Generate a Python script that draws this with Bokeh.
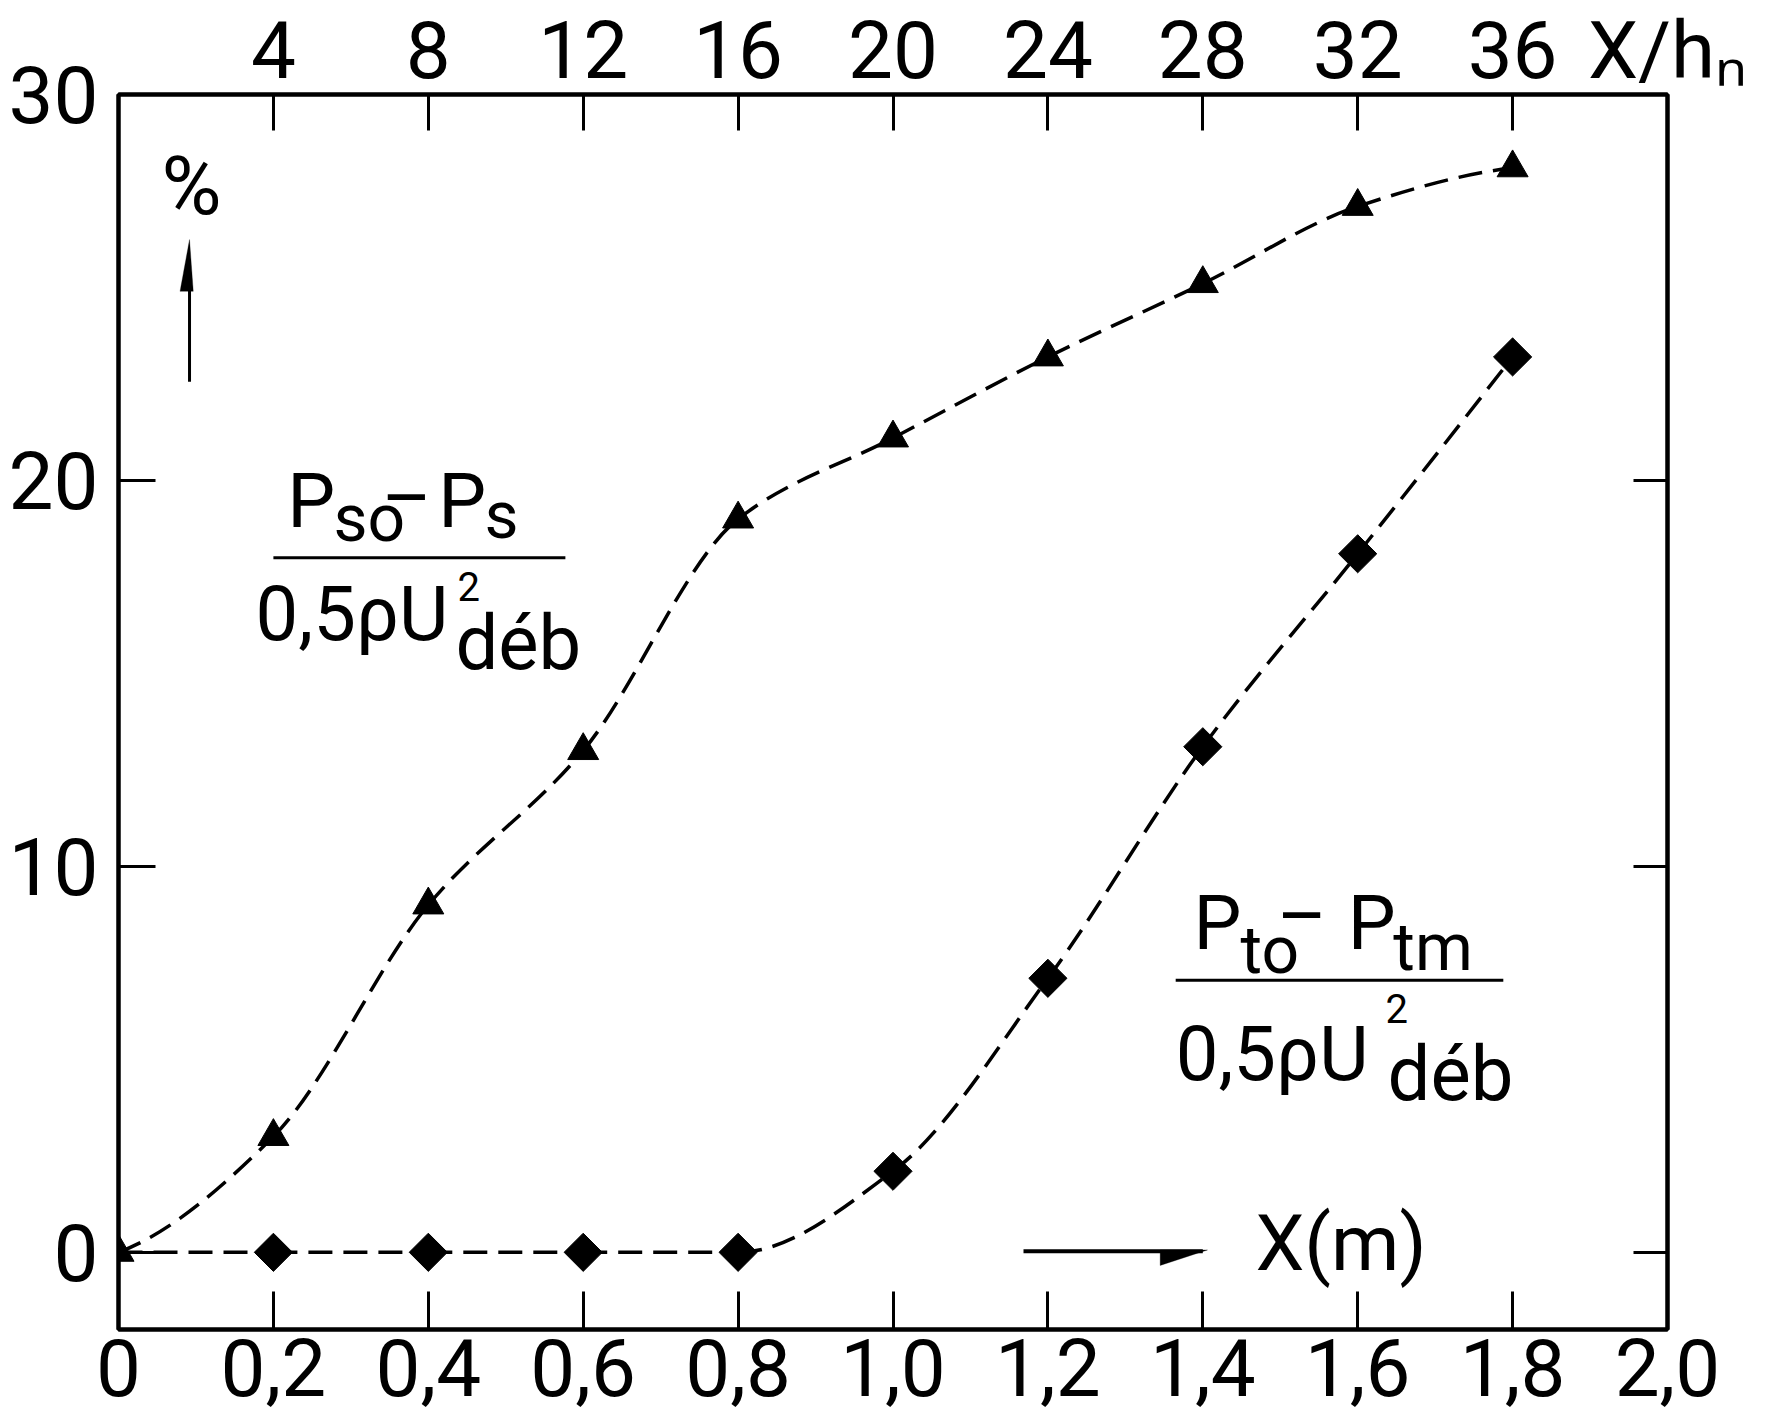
import numpy as np
from bokeh.plotting import figure
from bokeh.models import Range1d, LinearAxis, FixedTicker, Label, Arrow, PolyAnnotation
from bokeh.embed import file_html
from bokeh.resources import INLINE

# ---- data ----
x_m = [0.0, 0.2, 0.4, 0.6, 0.8, 1.0, 1.2, 1.4, 1.6, 1.8]
static_pct = [0.0, 3.0, 9.0, 13.0, 19.0, 21.1, 23.2, 25.1, 27.1, 28.1]   # triangles
total_pct = [0.0, 0.0, 0.0, 0.0, 0.0, 2.1, 7.1, 13.1, 18.1, 23.2]      # diamonds

x_ticks_bottom = [0.0, 0.2, 0.4, 0.6, 0.8, 1.0, 1.2, 1.4, 1.6, 1.8, 2.0]
x_labels_bottom = ["0", "0,2", "0,4", "0,6", "0,8", "1,0", "1,2", "1,4", "1,6", "1,8", "2,0"]
xh_ticks_top = [4, 8, 12, 16, 20, 24, 28, 32, 36, 40]
xh_labels_top = ["4", "8", "12", "16", "20", "24", "28", "32", "36", "X/hₙ"]
y_ticks_left = [0, 10, 20, 30]
y_ticks_right = [0, 10, 20]

FONT = "Roboto"
DASH = "24 11"


def pchip_bezier(xs, ys):
    xs = np.asarray(xs, float)
    ys = np.asarray(ys, float)
    h = np.diff(xs)
    d = np.diff(ys) / h
    n = len(xs)
    m = np.zeros(n)
    for k in range(1, n - 1):
        if d[k - 1] * d[k] > 0:
            w1 = 2 * h[k] + h[k - 1]
            w2 = h[k] + 2 * h[k - 1]
            m[k] = (w1 + w2) / (w1 / d[k - 1] + w2 / d[k])
    def end(h0, h1, d0, d1):
        v = ((2 * h0 + h1) * d0 - h0 * d1) / (h0 + h1)
        if np.sign(v) != np.sign(d0):
            v = 0.0
        elif np.sign(d0) != np.sign(d1) and abs(v) > abs(3 * d0):
            v = 3 * d0
        return v
    m[0] = end(h[0], h[1], d[0], d[1])
    m[-1] = end(h[-1], h[-2], d[-1], d[-2])
    x0, x1 = xs[:-1], xs[1:]
    y0, y1 = ys[:-1], ys[1:]
    return dict(x0=x0, y0=y0, x1=x1, y1=y1,
                cx0=x0 + h / 3, cy0=y0 + m[:-1] * h / 3,
                cx1=x1 - h / 3, cy1=y1 - m[1:] * h / 3)


p = figure(frame_width=1549, frame_height=1235,
           min_border_left=118, min_border_top=93, min_border_right=98, min_border_bottom=95,
           x_range=Range1d(0, 2.0), y_range=Range1d(-2, 30),
           x_axis_location=None, y_axis_location=None,
           output_backend="svg", toolbar_location=None)
p.extra_x_ranges = {"xh": Range1d(0, 40)}
p.xgrid.visible = False
p.ygrid.visible = False
p.background_fill_color = "white"
p.border_fill_color = "white"
p.outline_line_color = "black"
p.outline_line_width = 4


def style_axis(ax, tick_in, standoff, size="80px"):
    ax.axis_line_color = "black"
    ax.axis_line_width = 4
    ax.major_tick_in = tick_in
    ax.major_tick_out = 0
    ax.major_tick_line_width = 3
    ax.major_tick_line_color = "black"
    ax.minor_tick_line_color = None
    ax.major_label_text_font = FONT
    ax.major_label_text_font_size = size
    ax.major_label_text_color = "black"
    ax.major_label_standoff = standoff


bottom = LinearAxis(ticker=FixedTicker(ticks=x_ticks_bottom),
                    major_label_overrides={t: s for t, s in zip(x_ticks_bottom, x_labels_bottom)})
style_axis(bottom, 38, 9)
p.add_layout(bottom, "below")

top = LinearAxis(x_range_name="xh", ticker=FixedTicker(ticks=xh_ticks_top),
                 major_label_overrides={t: s for t, s in zip(xh_ticks_top, xh_labels_top)})
style_axis(top, 36, -3)
p.add_layout(top, "above")

left = LinearAxis(ticker=FixedTicker(ticks=y_ticks_left))
style_axis(left, 37, 20)
p.add_layout(left, "left")

right = LinearAxis(ticker=FixedTicker(ticks=y_ticks_right),
                   major_label_overrides={t: "" for t in y_ticks_right})
style_axis(right, 34, 0)
p.add_layout(right, "right")

# ---- curves ----
p.bezier(**pchip_bezier(x_m, static_pct), line_color="black", line_width=3.5, line_dash=DASH)
p.bezier(**pchip_bezier(x_m, total_pct), line_color="black", line_width=3.5, line_dash=DASH)

p.scatter(x_m[1:], total_pct[1:], marker="square", angle=np.pi / 4, size=27,
          fill_color="black", line_color="black")
p.scatter(x_m, static_pct, marker="triangle", size=31,
          fill_color="black", line_color="black")


def lab(x, y, text, size, align="left"):
    p.add_layout(Label(x=x, y=y, text=text, text_font=FONT, text_font_size=f"{size}px",
                       text_color="black", text_align=align, text_baseline="middle"))


def seg(xa, ya, xb, yb, w=3):
    p.add_layout(Arrow(end=None, x_start=xa, y_start=ya, x_end=xb, y_end=yb,
                       line_color="black", line_width=w))


# % with upward arrow
lab(0.0555, 27.62, "%", 82)
seg(0.0917, 22.56, 0.0917, 25.5, 3)
p.add_layout(PolyAnnotation(xs=[0.0917, 0.0795, 0.0965], ys=[26.24, 24.9, 24.9],
                            fill_color="black", fill_alpha=1, line_color="black", line_width=1))

# fraction 1: (Pso - Ps) / (0,5 rho U^2 deb)
lab(0.218, 19.48, "P", 76)
lab(0.2776, 19.02, "so", 66)
lab(0.372, 19.55, "–", 76, "center")
lab(0.413, 19.48, "P", 76)
lab(0.4726, 19.08, "s", 66)
seg(0.200, 18.0, 0.577, 18.0, 3)
lab(0.177, 16.55, "0,5ρU", 76)
lab(0.4377, 17.25, "2", 40)
lab(0.435, 15.78, "déb", 76)

# fraction 2: (Pto - Ptm) / (0,5 rho U^2 deb)
lab(1.388, 8.54, "P", 76)
lab(1.4487, 7.83, "to", 66)
lab(1.528, 8.72, "–", 76, "center")
lab(1.587, 8.54, "P", 76)
lab(1.646, 7.89, "tm", 66)
seg(1.365, 7.05, 1.788, 7.05, 3)
lab(1.365, 5.13, "0,5ρU", 76)
lab(1.636, 6.33, "2", 40)
lab(1.6385, 4.61, "déb", 76)

# X(m) arrow
seg(1.1685, 0.03, 1.40, 0.03, 4)
p.add_layout(PolyAnnotation(xs=[1.406, 1.345, 1.345], ys=[0.06, 0.06, -0.34],
                            fill_color="black", fill_alpha=1, line_color="black", line_width=1))
lab(1.468, 0.233, "X(m)", 78)

open("out.html", "w").write(file_html(p, INLINE))
